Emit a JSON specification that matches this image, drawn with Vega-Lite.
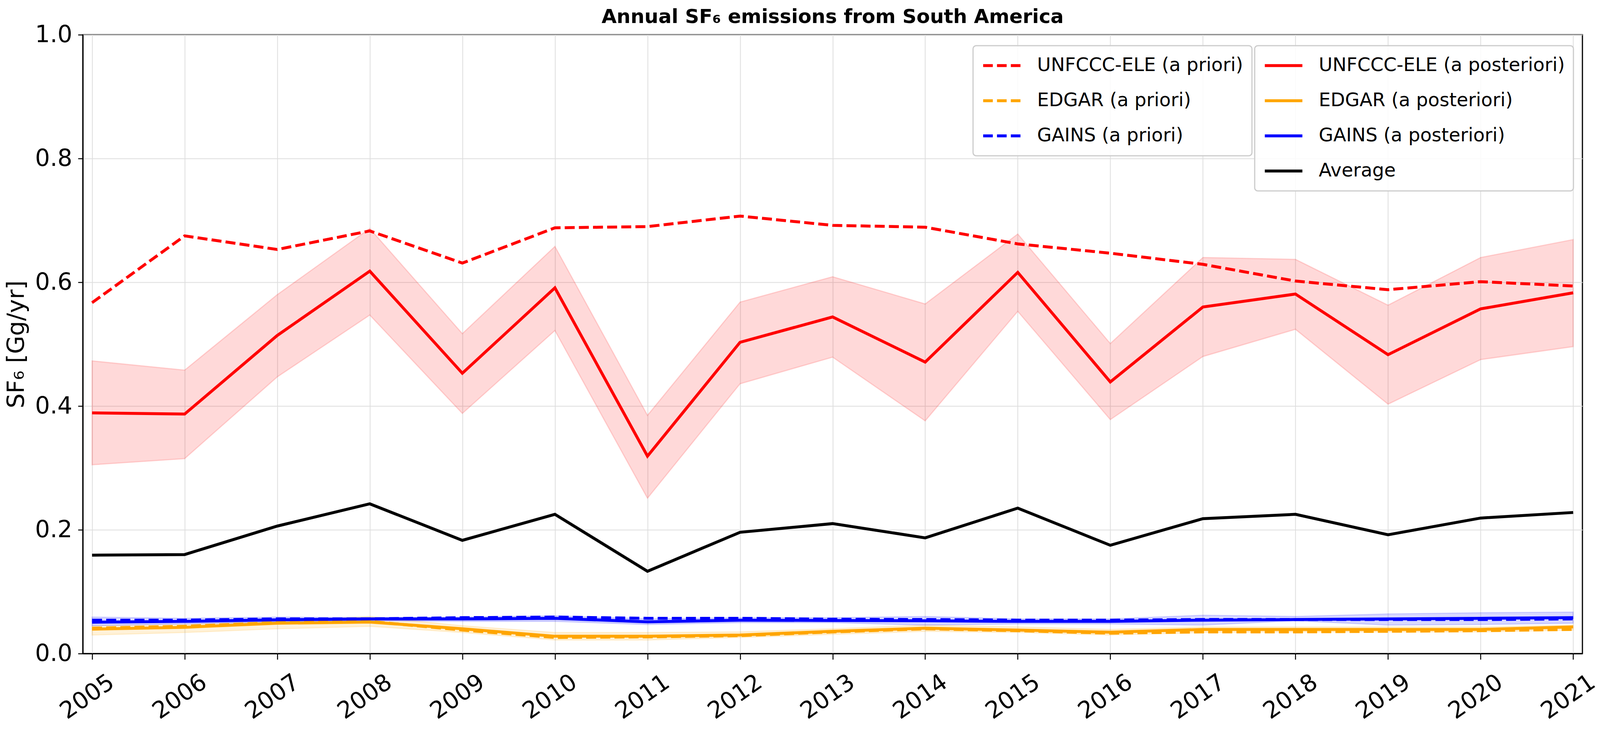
{
  "$schema": "https://vega.github.io/schema/vega-lite/v6.json",
  "width": 3839,
  "height": 1585,
  "autosize": {"type": "none"},
  "padding": {"left": 212, "top": 89, "right": 45, "bottom": 206},
  "background": "white",
  "title": {
    "text": "Annual SF₆ emissions from South America",
    "font": "DejaVu Sans",
    "fontSize": 50,
    "fontWeight": "bold",
    "color": "black",
    "anchor": "middle",
    "frame": "group",
    "offset": -10
  },
  "datasets": {
    "prior": [
      {"year": 2005, "series": "UNFCCC-ELE (a priori)", "value": 0.567},
      {"year": 2006, "series": "UNFCCC-ELE (a priori)", "value": 0.675},
      {"year": 2007, "series": "UNFCCC-ELE (a priori)", "value": 0.653},
      {"year": 2008, "series": "UNFCCC-ELE (a priori)", "value": 0.683},
      {"year": 2009, "series": "UNFCCC-ELE (a priori)", "value": 0.631},
      {"year": 2010, "series": "UNFCCC-ELE (a priori)", "value": 0.688},
      {"year": 2011, "series": "UNFCCC-ELE (a priori)", "value": 0.690},
      {"year": 2012, "series": "UNFCCC-ELE (a priori)", "value": 0.707},
      {"year": 2013, "series": "UNFCCC-ELE (a priori)", "value": 0.692},
      {"year": 2014, "series": "UNFCCC-ELE (a priori)", "value": 0.689},
      {"year": 2015, "series": "UNFCCC-ELE (a priori)", "value": 0.662},
      {"year": 2016, "series": "UNFCCC-ELE (a priori)", "value": 0.647},
      {"year": 2017, "series": "UNFCCC-ELE (a priori)", "value": 0.629},
      {"year": 2018, "series": "UNFCCC-ELE (a priori)", "value": 0.602},
      {"year": 2019, "series": "UNFCCC-ELE (a priori)", "value": 0.588},
      {"year": 2020, "series": "UNFCCC-ELE (a priori)", "value": 0.601},
      {"year": 2021, "series": "UNFCCC-ELE (a priori)", "value": 0.594},
      {"year": 2005, "series": "EDGAR (a priori)", "value": 0.041},
      {"year": 2006, "series": "EDGAR (a priori)", "value": 0.044},
      {"year": 2007, "series": "EDGAR (a priori)", "value": 0.050},
      {"year": 2008, "series": "EDGAR (a priori)", "value": 0.052},
      {"year": 2009, "series": "EDGAR (a priori)", "value": 0.038},
      {"year": 2010, "series": "EDGAR (a priori)", "value": 0.026},
      {"year": 2011, "series": "EDGAR (a priori)", "value": 0.027},
      {"year": 2012, "series": "EDGAR (a priori)", "value": 0.029},
      {"year": 2013, "series": "EDGAR (a priori)", "value": 0.035},
      {"year": 2014, "series": "EDGAR (a priori)", "value": 0.040},
      {"year": 2015, "series": "EDGAR (a priori)", "value": 0.037},
      {"year": 2016, "series": "EDGAR (a priori)", "value": 0.033},
      {"year": 2017, "series": "EDGAR (a priori)", "value": 0.035},
      {"year": 2018, "series": "EDGAR (a priori)", "value": 0.035},
      {"year": 2019, "series": "EDGAR (a priori)", "value": 0.036},
      {"year": 2020, "series": "EDGAR (a priori)", "value": 0.037},
      {"year": 2021, "series": "EDGAR (a priori)", "value": 0.039},
      {"year": 2005, "series": "GAINS (a priori)", "value": 0.054},
      {"year": 2006, "series": "GAINS (a priori)", "value": 0.054},
      {"year": 2007, "series": "GAINS (a priori)", "value": 0.056},
      {"year": 2008, "series": "GAINS (a priori)", "value": 0.056},
      {"year": 2009, "series": "GAINS (a priori)", "value": 0.058},
      {"year": 2010, "series": "GAINS (a priori)", "value": 0.059},
      {"year": 2011, "series": "GAINS (a priori)", "value": 0.057},
      {"year": 2012, "series": "GAINS (a priori)", "value": 0.057},
      {"year": 2013, "series": "GAINS (a priori)", "value": 0.0555},
      {"year": 2014, "series": "GAINS (a priori)", "value": 0.055},
      {"year": 2015, "series": "GAINS (a priori)", "value": 0.054},
      {"year": 2016, "series": "GAINS (a priori)", "value": 0.054},
      {"year": 2017, "series": "GAINS (a priori)", "value": 0.055},
      {"year": 2018, "series": "GAINS (a priori)", "value": 0.055},
      {"year": 2019, "series": "GAINS (a priori)", "value": 0.055},
      {"year": 2020, "series": "GAINS (a priori)", "value": 0.055},
      {"year": 2021, "series": "GAINS (a priori)", "value": 0.056}
    ],
    "post": [
      {"year": 2005, "series": "UNFCCC-ELE (a posteriori)", "value": 0.389, "lo": 0.305, "hi": 0.473},
      {"year": 2006, "series": "UNFCCC-ELE (a posteriori)", "value": 0.387, "lo": 0.315, "hi": 0.458},
      {"year": 2007, "series": "UNFCCC-ELE (a posteriori)", "value": 0.514, "lo": 0.447, "hi": 0.580},
      {"year": 2008, "series": "UNFCCC-ELE (a posteriori)", "value": 0.618, "lo": 0.547, "hi": 0.687},
      {"year": 2009, "series": "UNFCCC-ELE (a posteriori)", "value": 0.453, "lo": 0.388, "hi": 0.517},
      {"year": 2010, "series": "UNFCCC-ELE (a posteriori)", "value": 0.591, "lo": 0.522, "hi": 0.658},
      {"year": 2011, "series": "UNFCCC-ELE (a posteriori)", "value": 0.319, "lo": 0.251, "hi": 0.385},
      {"year": 2012, "series": "UNFCCC-ELE (a posteriori)", "value": 0.503, "lo": 0.436, "hi": 0.568},
      {"year": 2013, "series": "UNFCCC-ELE (a posteriori)", "value": 0.544, "lo": 0.479, "hi": 0.609},
      {"year": 2014, "series": "UNFCCC-ELE (a posteriori)", "value": 0.471, "lo": 0.376, "hi": 0.565},
      {"year": 2015, "series": "UNFCCC-ELE (a posteriori)", "value": 0.616, "lo": 0.553, "hi": 0.678},
      {"year": 2016, "series": "UNFCCC-ELE (a posteriori)", "value": 0.439, "lo": 0.378, "hi": 0.501},
      {"year": 2017, "series": "UNFCCC-ELE (a posteriori)", "value": 0.560, "lo": 0.480, "hi": 0.640},
      {"year": 2018, "series": "UNFCCC-ELE (a posteriori)", "value": 0.581, "lo": 0.524, "hi": 0.637},
      {"year": 2019, "series": "UNFCCC-ELE (a posteriori)", "value": 0.483, "lo": 0.403, "hi": 0.563},
      {"year": 2020, "series": "UNFCCC-ELE (a posteriori)", "value": 0.557, "lo": 0.475, "hi": 0.640},
      {"year": 2021, "series": "UNFCCC-ELE (a posteriori)", "value": 0.583, "lo": 0.496, "hi": 0.669},
      {"year": 2005, "series": "EDGAR (a posteriori)", "value": 0.0395, "lo": 0.030, "hi": 0.045},
      {"year": 2006, "series": "EDGAR (a posteriori)", "value": 0.0425, "lo": 0.034, "hi": 0.047},
      {"year": 2007, "series": "EDGAR (a posteriori)", "value": 0.049, "lo": 0.040, "hi": 0.053},
      {"year": 2008, "series": "EDGAR (a posteriori)", "value": 0.051, "lo": 0.044, "hi": 0.060},
      {"year": 2009, "series": "EDGAR (a posteriori)", "value": 0.040, "lo": 0.034, "hi": 0.045},
      {"year": 2010, "series": "EDGAR (a posteriori)", "value": 0.028, "lo": 0.022, "hi": 0.034},
      {"year": 2011, "series": "EDGAR (a posteriori)", "value": 0.028, "lo": 0.022, "hi": 0.034},
      {"year": 2012, "series": "EDGAR (a posteriori)", "value": 0.030, "lo": 0.026, "hi": 0.035},
      {"year": 2013, "series": "EDGAR (a posteriori)", "value": 0.036, "lo": 0.031, "hi": 0.040},
      {"year": 2014, "series": "EDGAR (a posteriori)", "value": 0.041, "lo": 0.036, "hi": 0.046},
      {"year": 2015, "series": "EDGAR (a posteriori)", "value": 0.038, "lo": 0.034, "hi": 0.043},
      {"year": 2016, "series": "EDGAR (a posteriori)", "value": 0.0345, "lo": 0.030, "hi": 0.039},
      {"year": 2017, "series": "EDGAR (a posteriori)", "value": 0.039, "lo": 0.034, "hi": 0.043},
      {"year": 2018, "series": "EDGAR (a posteriori)", "value": 0.039, "lo": 0.035, "hi": 0.043},
      {"year": 2019, "series": "EDGAR (a posteriori)", "value": 0.039, "lo": 0.035, "hi": 0.043},
      {"year": 2020, "series": "EDGAR (a posteriori)", "value": 0.039, "lo": 0.035, "hi": 0.043},
      {"year": 2021, "series": "EDGAR (a posteriori)", "value": 0.043, "lo": 0.038, "hi": 0.046},
      {"year": 2005, "series": "GAINS (a posteriori)", "value": 0.0507, "lo": 0.045, "hi": 0.059},
      {"year": 2006, "series": "GAINS (a posteriori)", "value": 0.052, "lo": 0.048, "hi": 0.057},
      {"year": 2007, "series": "GAINS (a posteriori)", "value": 0.0545, "lo": 0.051, "hi": 0.059},
      {"year": 2008, "series": "GAINS (a posteriori)", "value": 0.056, "lo": 0.053, "hi": 0.058},
      {"year": 2009, "series": "GAINS (a posteriori)", "value": 0.056, "lo": 0.052, "hi": 0.059},
      {"year": 2010, "series": "GAINS (a posteriori)", "value": 0.057, "lo": 0.052, "hi": 0.061},
      {"year": 2011, "series": "GAINS (a posteriori)", "value": 0.0513, "lo": 0.047, "hi": 0.056},
      {"year": 2012, "series": "GAINS (a posteriori)", "value": 0.054, "lo": 0.050, "hi": 0.058},
      {"year": 2013, "series": "GAINS (a posteriori)", "value": 0.0535, "lo": 0.050, "hi": 0.058},
      {"year": 2014, "series": "GAINS (a posteriori)", "value": 0.053, "lo": 0.046, "hi": 0.060},
      {"year": 2015, "series": "GAINS (a posteriori)", "value": 0.052, "lo": 0.048, "hi": 0.056},
      {"year": 2016, "series": "GAINS (a posteriori)", "value": 0.052, "lo": 0.048, "hi": 0.056},
      {"year": 2017, "series": "GAINS (a posteriori)", "value": 0.054, "lo": 0.046, "hi": 0.062},
      {"year": 2018, "series": "GAINS (a posteriori)", "value": 0.055, "lo": 0.053, "hi": 0.060},
      {"year": 2019, "series": "GAINS (a posteriori)", "value": 0.056, "lo": 0.046, "hi": 0.064},
      {"year": 2020, "series": "GAINS (a posteriori)", "value": 0.057, "lo": 0.047, "hi": 0.066},
      {"year": 2021, "series": "GAINS (a posteriori)", "value": 0.058, "lo": 0.049, "hi": 0.067},
      {"year": 2005, "series": "Average", "value": 0.159},
      {"year": 2006, "series": "Average", "value": 0.160},
      {"year": 2007, "series": "Average", "value": 0.206},
      {"year": 2008, "series": "Average", "value": 0.242},
      {"year": 2009, "series": "Average", "value": 0.183},
      {"year": 2010, "series": "Average", "value": 0.225},
      {"year": 2011, "series": "Average", "value": 0.133},
      {"year": 2012, "series": "Average", "value": 0.196},
      {"year": 2013, "series": "Average", "value": 0.210},
      {"year": 2014, "series": "Average", "value": 0.187},
      {"year": 2015, "series": "Average", "value": 0.235},
      {"year": 2016, "series": "Average", "value": 0.175},
      {"year": 2017, "series": "Average", "value": 0.218},
      {"year": 2018, "series": "Average", "value": 0.225},
      {"year": 2019, "series": "Average", "value": 0.192},
      {"year": 2020, "series": "Average", "value": 0.219},
      {"year": 2021, "series": "Average", "value": 0.228}
    ]
  },
  "encoding": {
    "x": {
      "field": "year",
      "type": "quantitative",
      "scale": {"domain": [2004.9, 2021.1], "nice": false, "zero": false},
      "axis": {
        "title": null,
        "values": [2005, 2006, 2007, 2008, 2009, 2010, 2011, 2012, 2013, 2014, 2015, 2016, 2017, 2018, 2019, 2020, 2021],
        "format": "d",
        "labelAngle": -35,
        "labelAlign": "right",
        "labelBaseline": "middle",
        "labelOffset": 50,
        "labelPadding": 52,
        "labelFontSize": 60,
        "labelLimit": 400
      }
    }
  },
  "layer": [
    {
      "data": {"name": "post"},
      "transform": [{"filter": "datum.lo != null"}],
      "mark": {"type": "area", "fillOpacity": 0.15, "strokeOpacity": 0.15, "strokeWidth": 3},
      "encoding": {
        "y": {
          "field": "lo",
          "type": "quantitative",
          "scale": {"domain": [0, 1], "nice": false},
          "axis": {"title": "SF₆ [Gg/yr]", "values": [0, 0.2, 0.4, 0.6, 0.8, 1.0], "format": ".1f"}
        },
        "y2": {"field": "hi"},
        "fill": {
          "field": "series",
          "type": "nominal",
          "scale": {"domain": ["UNFCCC-ELE (a posteriori)", "EDGAR (a posteriori)", "GAINS (a posteriori)"], "range": ["#ff0000", "#ffa500", "#0000ff"]},
          "legend": null
        },
        "stroke": {
          "field": "series",
          "type": "nominal",
          "scale": {"domain": ["UNFCCC-ELE (a posteriori)", "EDGAR (a posteriori)", "GAINS (a posteriori)"], "range": ["#ff0000", "#ffa500", "#0000ff"]},
          "legend": null
        }
      }
    },
    {
      "data": {"name": "prior"},
      "mark": {"type": "line", "strokeWidth": 7.5, "strokeDash": [25.5, 10.7]},
      "encoding": {
        "y": {
          "field": "value",
          "type": "quantitative",
          "scale": {"domain": [0, 1], "nice": false},
          "axis": {"title": "SF₆ [Gg/yr]", "values": [0, 0.2, 0.4, 0.6, 0.8, 1.0], "format": ".1f"}
        },
        "color": {
          "field": "series",
          "type": "nominal",
          "scale": {"domain": ["UNFCCC-ELE (a priori)", "EDGAR (a priori)", "GAINS (a priori)"], "range": ["#ff0000", "#ffa500", "#0000ff"]},
          "legend": {"orient": "none", "legendX": 2279, "legendY": 28, "symbolDash": [24.7, 10.7]}
        }
      }
    },
    {
      "data": {"name": "post"},
      "mark": {"type": "line", "strokeWidth": 7.5},
      "encoding": {
        "y": {
          "field": "value",
          "type": "quantitative",
          "scale": {"domain": [0, 1], "nice": false},
          "axis": {"title": "SF₆ [Gg/yr]", "values": [0, 0.2, 0.4, 0.6, 0.8, 1.0], "format": ".1f"}
        },
        "color": {
          "field": "series",
          "type": "nominal",
          "scale": {"domain": ["UNFCCC-ELE (a posteriori)", "EDGAR (a posteriori)", "GAINS (a posteriori)", "Average"], "range": ["#ff0000", "#ffa500", "#0000ff", "#000000"]},
          "legend": {"orient": "none", "legendX": 3000, "legendY": 28}
        }
      }
    }
  ],
  "resolve": {"scale": {"color": "independent"}},
  "config": {
    "font": "DejaVu Sans",
    "view": {"stroke": "black", "strokeWidth": 3},
    "axis": {
      "domainColor": "black",
      "domainWidth": 3,
      "tickColor": "black",
      "tickWidth": 2.5,
      "gridColor": "#dddddd",
      "gridWidth": 2,
      "labelFont": "DejaVu Sans",
      "labelFontSize": 60,
      "labelColor": "black",
      "labelPadding": 15,
      "titleFont": "DejaVu Sans",
      "titleFontSize": 60,
      "titleFontWeight": "normal",
      "titleColor": "black",
      "titlePadding": 16
    },
    "axisX": {"tickSize": 15},
    "axisY": {"tickSize": 12.3},
    "legend": {
      "title": null,
      "symbolType": "stroke",
      "symbolSize": 9254,
      "symbolStrokeWidth": 7.5,
      "clipHeight": 58,
      "rowPadding": 32,
      "padding": 22,
      "labelFont": "DejaVu Sans",
      "labelFontSize": 48,
      "labelColor": "black",
      "labelOffset": 38,
      "labelLimit": 1000,
      "fillColor": "rgba(255,255,255,0.85)",
      "strokeColor": "#cccccc",
      "strokeWidth": 3,
      "cornerRadius": 8
    }
  }
}
